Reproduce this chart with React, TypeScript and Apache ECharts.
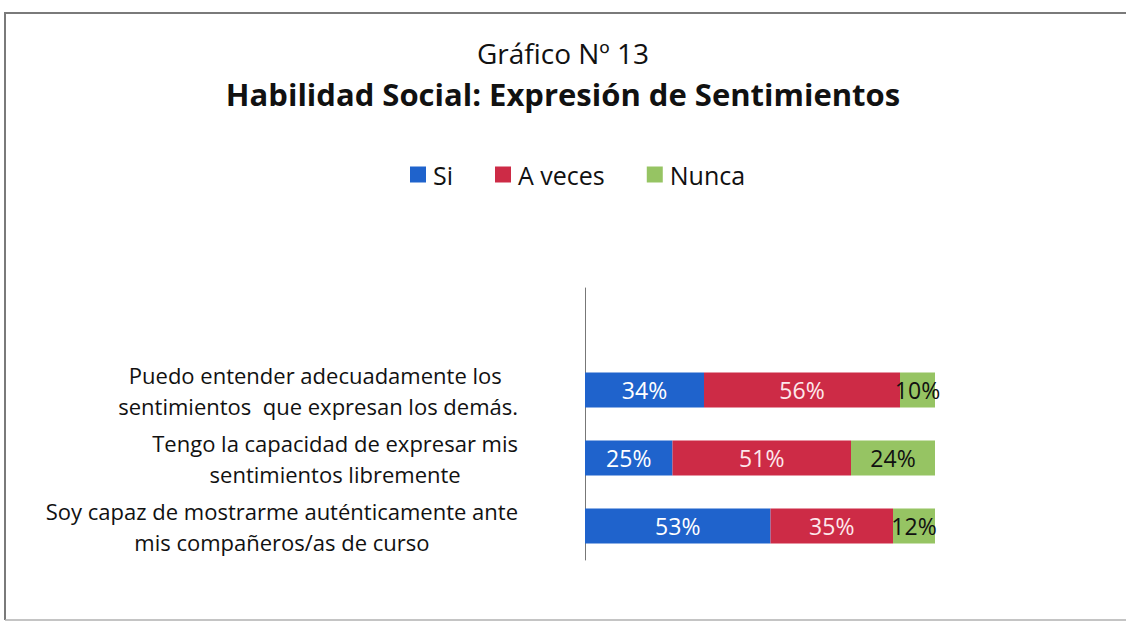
import React, { useEffect, useRef } from "react";
import * as echarts from "echarts";

const titleTop = "Gráfico Nº 13";
const titleMain = "Habilidad Social: Expresión de Sentimientos";
const seriesNames = ["Si", "A veces", "Nunca"];
const categories = [
  "Puedo entender adecuadamente los \nsentimientos  que expresan los demás.",
  "Tengo la capacidad de expresar mis\nsentimientos libremente",
  "Soy capaz de mostrarme auténticamente ante\nmis compañeros/as de curso",
];
const si = [34, 25, 53];
const aVeces = [56, 51, 35];
const nunca = [10, 24, 12];
const colors = ["#1f63cc", "#cd2b46", "#96c463"];
const labelColors = ["#ffffff", "#fde8ec", "#111111"];

const FONT = "'Open Sans', sans-serif";

export default function App() {
  const ref = useRef<HTMLDivElement>(null);
  useEffect(() => {
    if (!ref.current) return;
    const chart = echarts.init(ref.current, null, { renderer: "svg" });
    const yData = ["", ...categories];
    const seriesData = [si, aVeces, nunca];
    chart.setOption({
      animation: false,
      backgroundColor: "#ffffff",
      textStyle: { fontFamily: FONT },
      title: [
        {
          text: titleTop,
          left: "center",
          top: 34,
          textStyle: { fontFamily: FONT, fontSize: 28, fontWeight: "normal", color: "#111" },
        },
        {
          text: titleMain,
          left: "center",
          top: 73,
          textStyle: { fontFamily: FONT, fontSize: 31, fontWeight: "bold", color: "#111" },
        },
      ],
      legend: {
        data: seriesNames,
        left: 405,
        top: 157,
        itemWidth: 16,
        itemHeight: 16,
        itemGap: 42,
        icon: "rect",
        textStyle: { fontFamily: FONT, fontSize: 25, color: "#111", padding: [0, 0, 0, 2] },
      },
      grid: { left: 585, right: 191, top: 288, bottom: 66 },
      xAxis: { type: "value", min: 0, max: 100, show: false },
      yAxis: {
        type: "category",
        inverse: true,
        data: yData,
        axisLine: { show: true, lineStyle: { color: "#777", width: 1 } },
        axisTick: { show: false },
        axisLabel: {
          margin: 67,
          formatter: (v: string) =>
            v
              .split("\n")
              .map((l) => `{c|${l}}`)
              .join("\n"),
          rich: {
            c: { align: "center", fontFamily: FONT, fontSize: 22, lineHeight: 31, color: "#111" },
          },
        },
      },
      graphic: [
        {
          type: "polyline",
          shape: { points: [[1140, 13], [5, 13], [5, 620]] },
          style: { fill: "none", stroke: "#7a7a7a", lineWidth: 2 },
          silent: true,
        },
        {
          type: "line",
          shape: { x1: 5, y1: 620, x2: 1140, y2: 620 },
          style: { stroke: "#b0b0b0", lineWidth: 1.5 },
          silent: true,
        },
      ],
      series: seriesNames.map((name, i) => ({
        name,
        type: "bar",
        stack: "total",
        barWidth: 35,
        data: ["-", ...seriesData[i]],
        itemStyle: { color: colors[i] },
        label: {
          show: true,
          position: "inside",
          formatter: "{c}%",
          fontFamily: FONT,
          fontSize: 23,
          color: labelColors[i],
        },
      })),
    });
    return () => chart.dispose();
  }, []);
  return (
    <div
      ref={ref}
      style={{ position: "fixed", left: 0, top: 0, width: 1126, height: 626 }}
    />
  );
}
